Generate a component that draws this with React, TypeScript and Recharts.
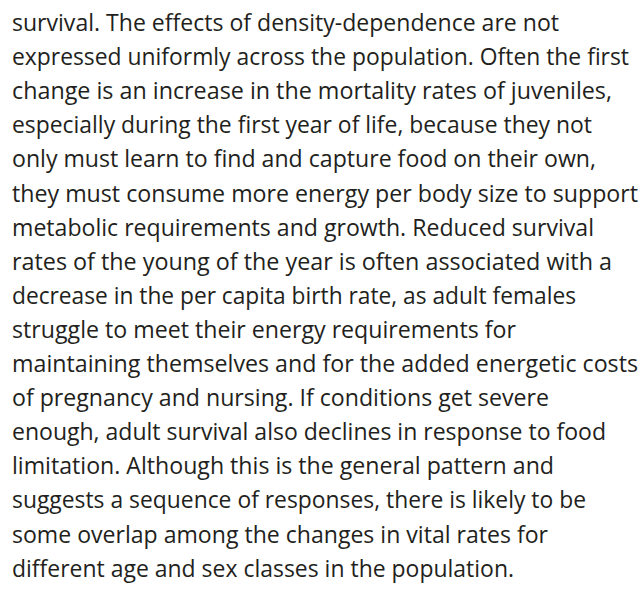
import React from "react";
import { ScatterChart, Scatter, XAxis, YAxis } from "recharts";

// Paragraph lines (categories), in reading order
const lineTexts: string[] = [
  "survival. The effects of density-dependence are not",
  "expressed uniformly across the population. Often the first",
  "change is an increase in the mortality rates of juveniles,",
  "especially during the first year of life, because they not",
  "only must learn to find and capture food on their own,",
  "they must consume more energy per body size to support",
  "metabolic requirements and growth. Reduced survival",
  "rates of the young of the year is often associated with a",
  "decrease in the per capita birth rate, as adult females",
  "struggle to meet their energy requirements for",
  "maintaining themselves and for the added energetic costs",
  "of pregnancy and nursing. If conditions get severe",
  "enough, adult survival also declines in response to food",
  "limitation. Although this is the general pattern and",
  "suggests a sequence of responses, there is likely to be",
  "some overlap among the changes in vital rates for",
  "different age and sex classes in the population.",
];

// Line numbers (y values)
const lineNumbers: number[] = lineTexts.map((_, i) => i + 1);

const data = lineTexts.map((t, i) => ({ x: 0, y: lineNumbers[i], text: t, idx: i }));

// Layout: rendered width for each line (fits the reference typesetting)
const LINE_RIGHT = [559, 629, 612, 592, 596, 638, 594, 612, 576, 516, 638, 549, 606, 554, 586, 548, 514];
const LEFT = 12;

const TextLine = (props: any) => {
  const { cx, cy, payload } = props;
  const w = LINE_RIGHT[payload.idx] - LEFT;
  return (
    <text
      x={cx}
      y={cy}
      fill="#231f20"
      fontFamily="'Open Sans', 'Noto Sans', sans-serif"
      fontSize={24}
      textLength={w}
      lengthAdjust="spacingAndGlyphs"
    >
      {payload.text}
    </text>
  );
};

export default function App() {
  const d0 = 1 - 31 / 34.1;
  const d1 = d0 + 590 / 34.1;
  return (
    <div style={{ position: "absolute", left: 0, top: 0, width: 644, height: 590, background: "#fff" }}>
      <ScatterChart width={644} height={590} margin={{ top: 0, right: 0, bottom: 0, left: 0 }}>
        <XAxis type="number" dataKey="x" hide domain={[-LEFT, 644 - LEFT]} allowDataOverflow />
        <YAxis type="number" dataKey="y" hide reversed domain={[d0, d1]} allowDataOverflow />
        <Scatter data={data} shape={TextLine} isAnimationActive={false} />
      </ScatterChart>
    </div>
  );
}
